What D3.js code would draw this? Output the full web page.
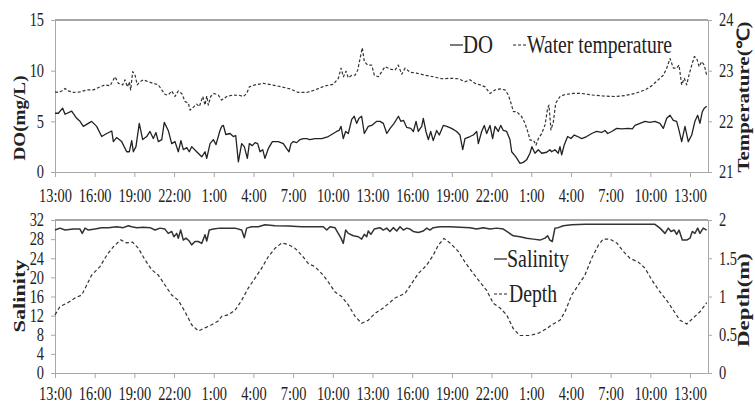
<!DOCTYPE html>
<html>
<head>
<meta charset="utf-8">
<script src="https://d3js.org/d3.v7.min.js"></script>
<style>
  body { margin: 0; background: #fff; }
  svg { display: block; }
  .axis path, .axis line { stroke: #a8a8a8; }
  .axis text { font-family: "Liberation Serif", serif; font-size: 18px; fill: #222; }
</style>
</head>
<body>
<div id="chart"></div>
<script>
// hours after 13:00 on the first day, and the values
const doSeries = [[0,5.8],[0.25,5.8],[0.58,6.3],[0.76,5.7],[1.26,6.0],[1.64,5.3],[1.89,5.0],[2.14,4.5],[2.77,5.0],[3.15,4.5],[3.53,3.5],[3.91,3.8],[4.29,4.05],[4.41,3.0],[4.66,3.4],[5.04,3.0],[5.42,2.0],[5.62,2.0],[5.8,3.1],[5.92,2.0],[6.12,2.5],[6.37,4.8],[6.63,3.2],[6.93,3.5],[7.18,4.0],[7.43,3.3],[7.63,3.9],[7.81,3.0],[8.07,3.2],[8.26,4.9],[8.56,4.1],[8.82,2.8],[9.07,3.0],[9.32,2.0],[9.52,3.1],[9.7,2.2],[9.96,2.4],[10.15,2.0],[10.33,2.5],[10.71,2.0],[11.09,1.5],[11.34,2.0],[11.47,1.35],[11.72,2.8],[11.97,3.2],[12.17,2.7],[12.47,4.1],[12.6,4.5],[12.73,4.6],[12.91,3.7],[13.23,3.8],[13.48,3.5],[13.66,3.6],[13.86,1.0],[14.11,2.8],[14.31,2.5],[14.54,1.35],[14.69,2.8],[14.92,2.6],[15.12,2.9],[15.32,2.8],[15.5,2.0],[15.7,2.2],[15.87,1.35],[16.12,2.3],[16.43,3.0],[16.88,3.0],[17.26,2.8],[17.51,2.3],[17.69,2.0],[17.84,2.8],[18.01,3.0],[18.27,2.9],[18.52,3.2],[18.77,3.3],[19.02,3.3],[19.27,3.2],[19.65,3.3],[20.16,3.3],[20.66,3.5],[21.04,3.8],[21.29,4.0],[21.47,4.1],[21.62,4.5],[21.79,3.3],[21.97,4.0],[22.17,3.8],[22.43,5.2],[22.62,5.5],[22.8,4.8],[22.98,5.3],[23.18,5.5],[23.38,3.8],[23.68,4.5],[23.94,4.6],[24.32,5.0],[24.57,5.0],[24.82,4.8],[25.08,3.8],[25.33,4.3],[25.63,4.8],[25.96,5.5],[26.14,5.0],[26.34,5.1],[26.59,4.4],[26.89,4.3],[27.09,4.0],[27.29,5.0],[27.46,4.0],[27.72,4.5],[27.84,5.3],[28.04,4.0],[28.22,3.2],[28.4,4.0],[28.59,3.1],[28.85,4.1],[29.05,3.65],[29.35,4.6],[29.61,4.5],[29.98,4.3],[30.36,4.0],[30.61,3.65],[30.82,2.2],[30.99,3.3],[31.37,3.5],[31.62,3.65],[31.88,4.0],[32.0,2.8],[32.25,4.0],[32.45,4.6],[32.63,3.8],[32.88,4.6],[33.08,3.3],[33.26,4.5],[33.51,4.0],[33.69,4.6],[33.89,4.1],[34.14,4.0],[34.39,3.2],[34.52,2.0],[34.84,1.5],[35.15,0.85],[35.4,0.95],[35.65,1.2],[35.9,1.85],[36.05,2.5],[36.28,1.85],[36.53,2.2],[36.79,1.85],[37.17,1.95],[37.41,2.2],[37.54,2.0],[37.79,2.2],[38.04,1.85],[38.17,2.5],[38.3,1.7],[38.5,2.7],[38.75,3.5],[39.0,3.3],[39.25,3.65],[39.51,3.5],[39.81,3.3],[40.19,3.5],[40.57,3.8],[40.94,4.0],[41.32,3.9],[41.57,4.1],[41.78,3.8],[42.08,4.0],[42.46,4.3],[42.83,4.25],[43.33,4.3],[43.64,4.25],[43.84,4.6],[44.22,4.8],[44.6,5.0],[44.97,4.9],[45.35,5.0],[45.73,4.8],[45.98,4.3],[46.24,5.3],[46.49,5.6],[46.74,5.1],[46.99,5.0],[47.17,4.1],[47.37,3.0],[47.62,4.5],[47.87,3.0],[48.13,3.65],[48.37,5.0],[48.58,5.6],[48.75,4.8],[48.93,5.95],[49.08,6.3],[49.26,6.5]];

const tempSeries = [[0,22.58],[0.25,22.57],[0.51,22.6],[0.76,22.65],[1.01,22.6],[1.38,22.57],[1.89,22.58],[2.4,22.62],[2.9,22.62],[3.4,22.68],[3.78,22.72],[4.16,22.7],[4.54,22.88],[4.79,22.75],[5.12,22.72],[5.29,22.82],[5.47,22.68],[5.62,22.78],[5.72,22.62],[5.87,22.98],[6.05,22.91],[6.22,22.72],[6.43,22.78],[6.68,22.82],[7.05,22.78],[7.43,22.75],[7.81,22.72],[8.07,22.62],[8.32,22.53],[8.57,22.52],[8.82,22.6],[9.07,22.49],[9.32,22.6],[9.58,22.55],[9.83,22.39],[10.08,22.36],[10.21,22.22],[10.51,22.29],[10.71,22.34],[10.91,22.29],[11.17,22.49],[11.34,22.32],[11.47,22.5],[11.59,22.32],[11.77,22.49],[12.02,22.55],[12.34,22.52],[12.6,22.42],[12.98,22.49],[13.48,22.52],[13.99,22.51],[14.23,22.49],[14.49,22.55],[14.69,22.68],[15.12,22.72],[15.75,22.75],[16.38,22.72],[17.14,22.68],[17.77,22.64],[18.39,22.57],[19.03,22.57],[19.66,22.62],[20.41,22.7],[21.04,22.73],[21.42,22.85],[21.62,23.05],[21.8,22.88],[22.0,22.99],[22.17,22.86],[22.43,22.91],[22.68,22.91],[22.88,23.01],[23.06,23.24],[23.23,23.45],[23.38,23.18],[23.64,23.11],[23.94,23.11],[24.14,22.91],[24.44,22.88],[24.7,22.98],[24.95,23.08],[25.33,23.03],[25.7,23.01],[25.95,23.11],[26.21,22.93],[26.46,23.05],[26.84,22.97],[27.34,22.95],[27.97,22.91],[28.6,22.88],[29.23,22.84],[29.86,22.85],[30.49,22.84],[30.99,22.78],[31.37,22.82],[31.75,22.75],[32.13,22.72],[32.51,22.68],[32.88,22.55],[33.26,22.62],[33.64,22.64],[34.02,22.62],[34.27,22.52],[34.47,22.36],[34.65,22.19],[34.9,22.19],[35.28,22.09],[35.53,21.96],[35.78,21.76],[35.91,21.63],[36.16,21.63],[36.36,21.53],[36.54,21.66],[36.79,21.76],[37.04,21.93],[37.24,22.26],[37.34,22.32],[37.49,21.83],[37.67,21.99],[37.85,22.36],[38.0,22.42],[38.18,22.49],[38.56,22.53],[39.18,22.55],[39.82,22.55],[40.57,22.52],[41.45,22.5],[42.33,22.49],[43.09,22.51],[43.84,22.55],[44.6,22.62],[45.1,22.7],[45.6,22.82],[45.98,22.91],[46.24,23.05],[46.49,23.24],[46.74,23.05],[46.99,23.05],[47.17,23.11],[47.37,22.72],[47.57,22.85],[47.75,22.72],[47.92,22.91],[48.13,23.11],[48.33,23.28],[48.51,23.24],[48.69,23.08],[48.88,23.18],[49.08,23.11],[49.26,22.91]];

const salinitySeries = [[0,29.9],[0.38,30.3],[0.76,29.9],[1.38,30.1],[1.89,30.1],[2.06,29.2],[2.27,30.3],[2.52,29.9],[3.02,30.1],[3.53,30.4],[4.03,30.4],[4.66,30.6],[5.16,30.4],[5.54,30.8],[5.8,30.6],[6.18,30.4],[6.67,30.5],[7.18,30.4],[7.56,29.9],[7.94,30.3],[8.31,30.1],[8.56,29.2],[8.82,29.6],[8.99,28.5],[9.2,29.2],[9.32,28.2],[9.5,29.9],[9.7,27.8],[9.9,28.2],[10.15,27.6],[10.33,26.8],[10.58,27.5],[10.83,27.5],[11.09,27.1],[11.34,28.9],[11.47,27.6],[11.66,29.9],[11.97,30.1],[12.47,30.3],[12.85,30.3],[13.61,30.3],[14.11,29.9],[14.31,28.3],[14.49,30.3],[14.87,30.6],[15.37,30.6],[15.87,31.0],[16.63,30.8],[17.63,30.75],[18.65,30.6],[19.65,30.6],[20.28,30.6],[20.54,29.9],[20.79,30.6],[21.16,30.4],[21.41,29.2],[21.62,28.2],[21.79,27.1],[21.97,29.9],[22.17,29.2],[22.55,28.7],[22.93,28.5],[23.18,28.0],[23.38,29.0],[23.56,28.5],[23.68,29.7],[23.88,29.0],[24.13,30.1],[24.57,30.4],[24.81,29.9],[25.07,30.3],[25.32,29.6],[25.57,30.4],[25.83,29.7],[26.08,30.6],[26.33,29.9],[26.58,30.3],[26.83,30.1],[27.08,29.6],[27.46,29.4],[27.84,29.7],[28.1,30.3],[28.34,29.9],[28.59,30.4],[29.1,30.6],[29.86,30.6],[30.61,30.5],[31.37,30.4],[31.87,30.1],[32.37,30.4],[32.88,30.1],[33.39,30.3],[33.89,30.1],[34.26,29.4],[34.64,28.7],[35.15,28.5],[35.65,28.2],[36.15,28.0],[36.66,27.8],[37.04,28.2],[37.24,28.7],[37.41,27.8],[37.59,27.5],[37.79,30.3],[38.04,30.4],[38.42,30.8],[39.06,31.0],[40.06,31.1],[41.57,31.1],[43.08,31.1],[44.6,31.1],[45.35,31.1],[45.73,30.3],[46.11,29.2],[46.36,30.3],[46.56,29.6],[46.81,29.9],[46.99,29.0],[47.17,29.9],[47.42,27.8],[47.75,27.8],[48.0,28.2],[48.17,29.6],[48.37,29.2],[48.58,30.3],[48.75,29.2],[49.0,30.3],[49.26,29.9]];

const depthSeries = [[0,0.76],[0.38,0.87],[0.88,0.91],[1.51,0.98],[2.02,1.02],[2.4,1.15],[2.77,1.28],[3.4,1.39],[3.91,1.54],[4.41,1.65],[4.97,1.74],[5.42,1.7],[5.87,1.71],[6.3,1.63],[6.8,1.48],[7.31,1.35],[7.81,1.28],[8.31,1.15],[8.82,1.02],[9.32,0.95],[9.83,0.8],[10.33,0.63],[10.83,0.55],[11.34,0.59],[11.84,0.63],[12.34,0.68],[12.6,0.74],[13.1,0.76],[13.61,0.82],[14.11,0.95],[14.61,1.11],[15.12,1.24],[15.62,1.37],[16.12,1.52],[16.63,1.63],[17.14,1.7],[17.63,1.68],[18.14,1.63],[18.65,1.54],[19.15,1.43],[19.65,1.39],[20.16,1.3],[20.66,1.19],[21.16,1.06],[21.67,1.0],[22.17,0.89],[22.68,0.74],[23.18,0.65],[23.68,0.69],[24.19,0.78],[24.81,0.85],[25.7,0.98],[26.46,1.04],[26.96,1.17],[27.46,1.3],[28.1,1.41],[28.59,1.54],[28.97,1.67],[29.4,1.76],[29.86,1.7],[30.48,1.59],[30.99,1.45],[31.62,1.3],[32.12,1.19],[32.63,1.08],[33.13,0.91],[33.64,0.85],[34.14,0.76],[34.64,0.58],[35.15,0.49],[35.9,0.49],[36.53,0.52],[37.17,0.58],[37.54,0.63],[38.17,0.69],[38.55,0.8],[39.06,1.02],[39.56,1.15],[40.06,1.28],[40.57,1.5],[41.07,1.67],[41.44,1.75],[41.95,1.75],[42.46,1.7],[42.96,1.59],[43.46,1.5],[44.09,1.45],[44.6,1.37],[45.1,1.22],[45.73,1.06],[46.24,0.95],[46.74,0.82],[47.24,0.69],[47.75,0.64],[48.25,0.72],[48.75,0.8],[49.26,0.92]];

const tickHours = d3.range(0, 49, 3);
const tickLabels = ["13:00","16:00","19:00","22:00","1:00","4:00","7:00","10:00","13:00","16:00","19:00","22:00","1:00","4:00","7:00","10:00","13:00"];
const doTicks = [0, 5, 10, 15];
const tempTicks = [21, 22, 23, 24];
const salTicks = [0, 4, 8, 12, 16, 20, 24, 28, 32];
const depthTicks = [0, 0.5, 1, 1.5, 2];

const W = 755, H = 404;
const left = 55, right = 708;
const sx = 0.8; // the picture's text is squeezed sideways

const svg = d3.select("#chart").append("svg")
  .attr("width", W).attr("height", H);
svg.append("rect").attr("width", W).attr("height", H).attr("fill", "#fff");

const x = d3.scaleLinear().domain([0, 49.36]).range([left, right]);

function panel(top, bottom, yL, yR, ticksL, ticksR, fmtR, pad) {
  // top border
  svg.append("line")
    .attr("x1", left).attr("x2", right)
    .attr("y1", top).attr("y2", top)
    .attr("stroke", "#8a8a8a").attr("stroke-width", 1.5);

  svg.append("g").attr("class", "axis")
    .attr("transform", `translate(0,${bottom})`)
    .call(d3.axisBottom(x).tickValues(tickHours)
      .tickFormat((d, i) => tickLabels[i])
      .tickSize(5).tickSizeOuter(0).tickPadding(pad))
    .selectAll("text").attr("transform", `scale(${sx},1)`);

  svg.append("g").attr("class", "axis")
    .attr("transform", `translate(${left},0)`)
    .call(d3.axisLeft(yL).tickValues(ticksL).tickSize(4).tickSizeOuter(0))
    .selectAll("text").attr("x", -11 / sx).attr("transform", `scale(${sx},1)`);

  svg.append("g").attr("class", "axis")
    .attr("transform", `translate(${right},0)`)
    .call(d3.axisRight(yR).tickValues(ticksR).tickSize(4).tickSizeOuter(0)
      .tickFormat(fmtR))
    .selectAll("text").attr("x", 11 / sx).attr("transform", `scale(${sx},1)`);
}

// top panel: DO and water temperature
const yDO = d3.scaleLinear().domain([0, 15]).range([172, 20]);
const yT = d3.scaleLinear().domain([21, 24]).range([172, 20]);
panel(20, 172, yDO, yT, doTicks, tempTicks, d3.format("d"), 12);

// bottom panel: salinity and depth
const yS = d3.scaleLinear().domain([0, 32]).range([373, 220]);
const yD = d3.scaleLinear().domain([0, 2]).range([373, 220]);
panel(220, 373, yS, yD, salTicks, depthTicks, d => d, 9);

function drawLine(data, y, dash, width, color) {
  svg.append("path")
    .datum(data)
    .attr("fill", "none")
    .attr("stroke", color)
    .attr("stroke-width", width)
    .attr("stroke-dasharray", dash)
    .attr("stroke-linejoin", "round")
    .attr("d", d3.line().x(d => x(d[0])).y(d => y(d[1])));
}
drawLine(tempSeries, yT, "3,2", 1.2, "#333");
drawLine(doSeries, yDO, null, 1.3, "#222");
drawLine(depthSeries, yD, "3.5,2.5", 1.2, "#333");
drawLine(salinitySeries, yS, null, 1.5, "#333");

// axis titles
function title(txt, cx, cy, len) {
  svg.append("text")
    .attr("transform", `translate(${cx},${cy}) rotate(-90)`)
    .attr("text-anchor", "middle")
    .attr("textLength", len).attr("lengthAdjust", "spacingAndGlyphs")
    .style("font-family", "Liberation Serif, serif")
    .style("font-weight", "bold").style("font-size", "17px")
    .attr("fill", "#222")
    .text(txt);
}
title("DO(mg/L)", 25, 118, 85);
title("Temperature(\u2103)", 749, 97, 151);
title("Salinity", 25, 296, 73);
title("Depth(m)", 749, 300, 94);

// legends
function legendItem(x0, y0, dash, txt, tx, len) {
  svg.append("line")
    .attr("x1", x0).attr("x2", x0 + 13)
    .attr("y1", y0 - 8).attr("y2", y0 - 8)
    .attr("stroke", "#222").attr("stroke-width", 1.2)
    .attr("stroke-dasharray", dash);
  svg.append("text")
    .attr("x", tx).attr("y", y0)
    .attr("textLength", len).attr("lengthAdjust", "spacingAndGlyphs")
    .style("font-family", "Liberation Serif, serif")
    .style("font-size", "26px")
    .attr("fill", "#222")
    .text(txt);
}
legendItem(450, 53, null, "DO", 463, 30);
legendItem(513, 53, "3,2", "Water temperature", 527, 145);
legendItem(494, 267, null, "Salinity", 507, 62);
legendItem(494, 302, "3,2", "Depth", 509, 48);
</script>
</body>
</html>
